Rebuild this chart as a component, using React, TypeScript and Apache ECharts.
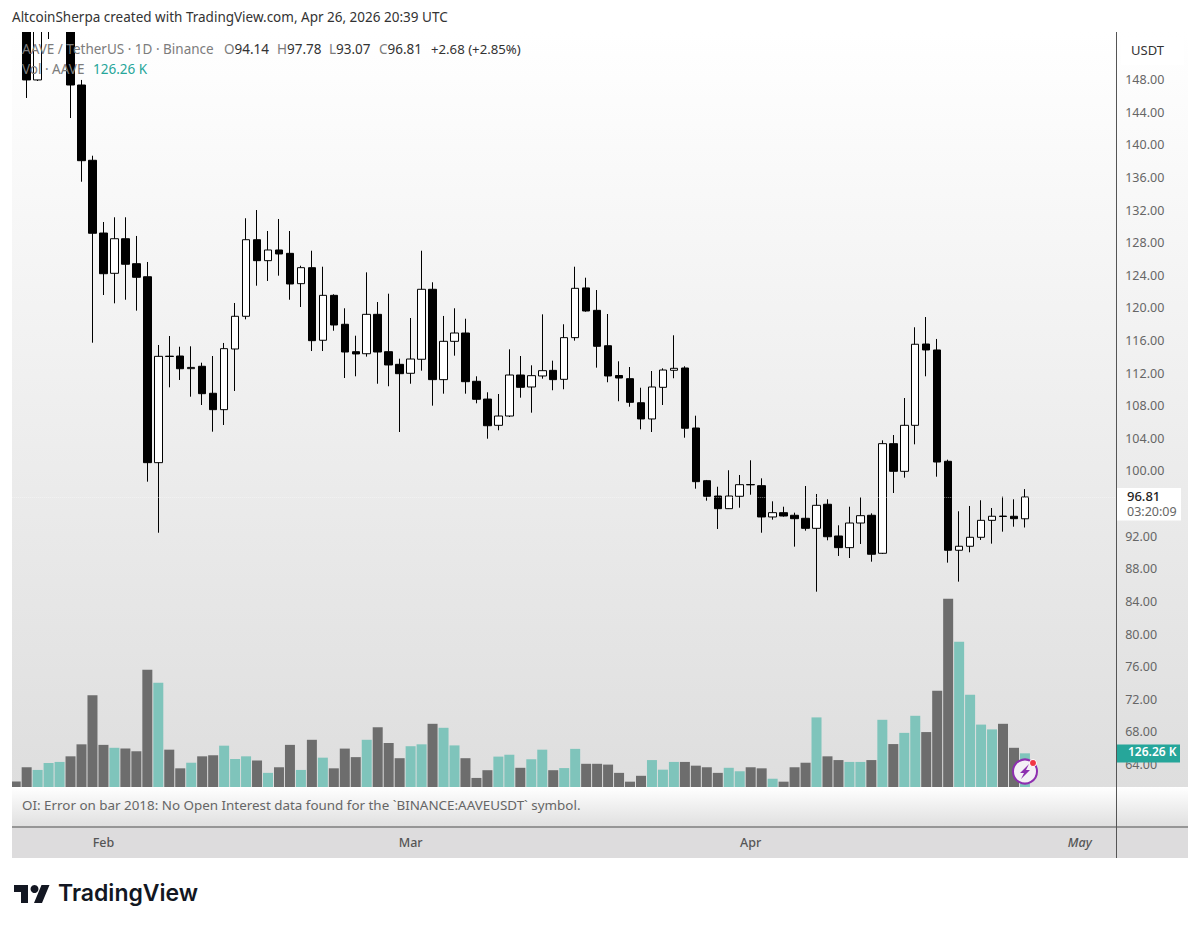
import React, { useEffect, useRef } from "react";
import * as echarts from "echarts";

const FONT = "'Noto Sans', sans-serif";

const opens = [160,157,147.95,155,157,156,147.33,138.10,129.18,124.24,128.48,125.42,123.82,101.02,114.08,114.10,112.55,112.84,109.53,107.52,114.96,118.97,128.36,125.79,127.10,126.69,122.97,124.93,116.03,121.54,117.99,114.63,114.38,119.21,114.63,113.08,111.98,113.70,122.28,111.20,115.90,116.92,111.00,108.82,105.60,106.74,111.77,110.30,111.65,112.34,111.24,116.35,122.45,119.70,115.36,111.71,111.32,108.37,106.38,110.26,112.35,112.63,105.27,98.81,96.93,95.38,96.90,98.34,98.20,94.36,94.89,94.57,94.20,92.97,95.92,92.03,90.60,93.62,94.57,89.91,103.35,99.96,105.60,115.57,114.84,101.19,90.28,90.77,91.87,93.95,94.47,94.45,94.14];
const closes = [157,147.95,156,158,159,147.33,138.05,129.15,124.19,128.48,125.35,123.75,101.02,114.06,114.04,112.54,112.70,109.48,107.52,115.00,118.97,128.36,125.79,127.10,126.61,122.93,124.93,115.98,121.54,117.90,114.59,114.35,119.21,114.59,113.00,111.93,113.73,122.28,111.20,115.90,116.92,110.95,108.79,105.55,106.74,111.77,110.26,111.69,112.30,111.20,116.35,122.40,119.62,115.29,111.65,111.40,108.42,106.38,110.30,112.38,112.59,105.24,98.69,96.90,95.38,96.93,98.32,98.30,94.36,94.89,94.48,94.15,92.97,95.79,91.94,90.60,93.62,94.52,89.79,103.35,99.96,105.60,115.54,114.84,101.10,90.28,90.77,91.87,93.95,94.45,94.42,94.15,96.81];
const lows = [155,145.74,147.82,152.97,155,143.28,135.47,115.73,121.58,120.56,121.00,119.66,98.69,92.43,110.26,111.16,109.11,108.09,104.82,105.64,109.81,118.60,122.72,123.30,123.95,121.00,120.11,114.71,114.71,117.20,111.40,111.61,114.02,110.70,110.39,104.78,110.70,112.30,108.01,109.48,114.14,109.48,108.30,103.96,104.99,106.62,108.99,107.15,111.32,109.90,110.02,115.98,119.53,112.67,110.88,108.55,107.88,105.11,104.78,108.09,111.37,104.08,97.83,96.36,92.89,95.34,95.50,97.09,92.43,94.03,94.40,90.72,92.68,85.20,91.50,89.58,89.33,91.05,88.88,89.82,97.30,99.18,103.27,111.61,99.30,88.76,86.43,90.03,91.54,91.09,92.56,93.17,93.07];
const highs = [162,158,158,160,161,157,147.95,138.66,130.53,131.11,131.11,128.82,125.63,115.45,116.55,115.24,115.29,113.28,114.10,115.70,120.60,130.99,132.00,129.43,130.90,129.43,125.17,127.01,125.05,121.67,119.95,116.59,124.36,120.72,121.74,113.77,118.76,127.01,123.14,119.01,119.95,118.67,111.61,109.65,109.44,114.92,114.10,112.96,119.21,113.53,117.99,125.05,123.70,122.19,119.25,113.45,112.75,110.21,112.26,112.59,116.64,112.84,106.78,98.90,98.07,100.09,99.51,101.31,99.10,96.28,95.62,94.89,98.16,97.18,96.53,93.34,95.62,96.78,94.81,103.76,104.41,108.95,117.62,118.88,116.19,101.39,95.06,95.71,96.41,95.46,96.85,96.53,97.78];
const volumes = [21,74,64,90,94,115,160,344,158,147,144,134,440,391,140,70,91,115,119,155,105,115,99,53,74,158,64,177,110,70,144,112,177,224,165,108,153,160,237,222,156,108,34,63,114,121,72,104,140,63,71,143,87,87,84,53,20,42,101,65,94,94,80,74,53,72,59,74,70,31,20,74,91,261,115,101,94,94,101,252,161,203,267,206,361,706,545,346,234,216,237,147,126.26];
const priceTicks = [148,144,140,136,132,128,124,120,116,112,108,104,100,92,88,84,80,76,72,68,64];
const monthLabels: Record<string, string> = { "1-1": "Feb", "2-1": "Mar", "3-1": "Apr", "4-1": "May" };
const lastClose = 96.81;

const categories: string[] = [];
for (let i = 0; i < 101; i++) {
  const d = new Date(Date.UTC(2026, 0, 24 + i));
  categories.push(`${d.getUTCMonth()}-${d.getUTCDate()}`);
}

const candleData = opens.map((o, i) => [o, closes[i], lows[i], highs[i]]);
const volumeData = volumes.map((v, i) => ({
  value: v,
  itemStyle: { color: closes[i] >= opens[i] ? "#7fc4bb" : "#6d6d6d" },
}));

const TV_PATH = "M14 22H7V11H0V4h14v18zM28 22h-8l7.5-18h8L28 22z";
echarts.graphic.registerShape("tvmark", (echarts.graphic as any).extendPath(TV_PATH, {}));

const vGrad = (a: string, b: string) =>
  new echarts.graphic.LinearGradient(0, 0, 0, 1, [
    { offset: 0, color: a },
    { offset: 1, color: b },
  ]);

const txt = (x: number, y: number, text: string, rich: any, extra: any = {}) => ({
  type: "text",
  x,
  y,
  z: 100,
  silent: true,
  style: { text, rich, fontFamily: FONT, fontSize: 13, ...extra },
});
const hdr = {
  a: { fill: "#7c7c7c", fontSize: 13.5, fontFamily: FONT },
  b: { fill: "#333333", fontSize: 13.5, fontFamily: FONT },
};

export default function App() {
  const ref = useRef<HTMLDivElement>(null);
  useEffect(() => {
    document.body.style.margin = "0";
    document.body.style.background = "#fff";
    const chart = echarts.init(ref.current!, null, { renderer: "svg" });
    chart.setOption({
      animation: false,
      backgroundColor: "#ffffff",
      tooltip: { show: false },
      grid: [
        { left: 10.2, width: 1108, top: 32, height: 755 },
        { left: 10.2, width: 1108, top: 487, height: 300 },
      ],
      xAxis: [
        {
          type: "category",
          gridIndex: 0,
          data: categories,
          boundaryGap: true,
          axisLine: { show: false },
          axisTick: { show: false },
          axisLabel: {
            margin: 49,
            interval: (_: number, v: string) => !!monthLabels[v],
            hideOverlap: false,
            formatter: (v: string) =>
              monthLabels[v] === "May" ? `{i|May}` : `{m|${monthLabels[v] ?? ""}}`,
            rich: {
              m: { color: "#555555", fontSize: 12.5, fontWeight: 500, fontFamily: FONT },
              i: { color: "#555555", fontSize: 12.5, fontWeight: 500, fontStyle: "italic", fontFamily: FONT },
            },
          },
          splitLine: { show: false },
        },
        {
          type: "category",
          gridIndex: 1,
          data: categories,
          boundaryGap: true,
          axisLine: { show: false },
          axisTick: { show: false },
          axisLabel: { show: false },
          splitLine: { show: false },
        },
      ],
      yAxis: [
        {
          type: "value",
          gridIndex: 0,
          position: "right",
          min: 61.25,
          max: 153.83,
          axisLine: { show: false },
          axisTick: { show: false },
          splitLine: { show: false },
          axisLabel: {
            customValues: priceTicks,
            margin: 7,
            color: "#666666",
            fontSize: 12.5,
            fontFamily: FONT,
            formatter: (v: number) => v.toFixed(2),
          },
        },
        {
          type: "value",
          gridIndex: 1,
          min: 0,
          max: 1125,
          show: false,
        },
      ],
      series: [
        {
          type: "bar",
          xAxisIndex: 1,
          yAxisIndex: 1,
          data: volumeData,
          barWidth: 10,
          silent: true,
          z: 1,
        },
        {
          type: "candlestick",
          xAxisIndex: 0,
          yAxisIndex: 0,
          data: candleData,
          barWidth: 8,
          silent: true,
          clip: true,
          z: 2,
          itemStyle: {
            color: "#ffffff",
            color0: "#000000",
            borderColor: "#000000",
            borderColor0: "#000000",
            borderWidth: 1,
          },
          markLine: {
            silent: true,
            symbol: "none",
            label: { show: false },
            lineStyle: { color: "rgba(255,255,255,0.45)", type: "dotted", width: 1 },
            data: [{ yAxis: lastClose }],
          },
        },
      ],
      graphic: [
        { type: "rect", z: -10, silent: true, shape: { x: 12, y: 32, width: 1176, height: 755 }, style: { fill: vGrad("#ffffff", "#dedede") } },
        { type: "rect", z: -10, silent: true, shape: { x: 12, y: 787, width: 1176, height: 39 }, style: { fill: vGrad("#ffffff", "#e0e0e0") } },
        { type: "rect", z: -10, silent: true, shape: { x: 12, y: 828, width: 1176, height: 30 }, style: { fill: "#dddcdd" } },
        { type: "rect", z: 90, silent: true, shape: { x: 0, y: 0, width: 1200, height: 32 }, style: { fill: "#ffffff" } },
        { type: "rect", z: 90, silent: true, shape: { x: 0, y: 32, width: 12, height: 826 }, style: { fill: "#ffffff" } },
        { type: "rect", z: 90, silent: true, shape: { x: 12, y: 826, width: 1176, height: 2 }, style: { fill: "#969696" } },
        { type: "rect", z: 90, silent: true, shape: { x: 1116, y: 32, width: 1, height: 826 }, style: { fill: "#555555" } },
        { type: "rect", z: 95, silent: true, shape: { x: 1121, y: 38, width: 63, height: 27 }, style: { fill: "#ffffff" } },
        { type: "rect", z: 95, silent: true, shape: { x: 1117, y: 488, width: 64, height: 32.5 }, style: { fill: "#ffffff" } },
        txt(1127, 489, "{b|96.81}", { b: { fill: "#222222", fontSize: 13, fontFamily: FONT, fontWeight: 500 } }),
        txt(1127, 505, "{a|03:20:09}", { a: { fill: "#666666", fontSize: 12.5, fontFamily: FONT } }),
        { type: "rect", z: 95, silent: true, shape: { x: 1117, y: 744.5, width: 63, height: 18 }, style: { fill: "#26a69a" } },
        txt(1128, 745.5, "{a|126.26 K}", { a: { fill: "#ffffff", fontSize: 12, fontWeight: 600, fontFamily: FONT } }),
        txt(1131, 43, "{a|USDT}", { a: { fill: "#333333", fontSize: 13, fontFamily: FONT } }),
        txt(12, 10, "{a|AltcoinSherpa created with TradingView.com, Apr 26, 2026 20:39 UTC}", { a: { fill: "#333333", fontSize: 13.5, fontFamily: FONT } }),
        txt(22, 42, "{a|AAVE / TetherUS · 1D · Binance}", hdr),
        txt(224, 42, "{a|O}{b|94.14}", hdr),
        txt(277, 42, "{a|H}{b|97.78}", hdr),
        txt(329, 42, "{a|L}{b|93.07}", hdr),
        txt(379, 42, "{a|C}{b|96.81}", hdr),
        txt(431, 42, "{b|+2.68 (+2.85%)}", { b: { fill: "#333333", fontSize: 13.2, fontFamily: FONT } }),
        txt(22, 62, "{a|Vol · AAVE}", hdr),
        txt(93, 62, "{t|126.26 K}", { t: { fill: "#26a69a", fontSize: 13.5, fontFamily: FONT } }),
        txt(22, 798, "{a|OI: Error on bar 2018: No Open Interest data found for the `BINANCE:AAVEUSDT` symbol.}", { a: { fill: "#666666", fontSize: 13.4, fontFamily: FONT } }),
        { type: "circle", z: 96, silent: true, shape: { cx: 1025, cy: 771.5, r: 12 }, style: { fill: "#f4f0f6", stroke: "#8e2fb0", lineWidth: 2 } },
        { type: "polygon", z: 97, silent: true, shape: { points: [[1029, 764], [1020, 773], [1024, 773], [1021, 779], [1030, 770], [1026, 770]] }, style: { fill: "#8e2fb0" } },
        { type: "circle", z: 98, silent: true, shape: { cx: 1033, cy: 763, r: 3.5 }, style: { fill: "#f23645", stroke: "#ffffff", lineWidth: 1 } },
        { type: "tvmark", z: 100, silent: true, x: 14, y: 881, style: { fill: "#131722" } },
        { type: "circle", z: 100, silent: true, shape: { cx: 34.5, cy: 889, r: 4 }, style: { fill: "#131722" } },
        txt(58, 881, "{a|TradingView}", { a: { fill: "#131722", fontSize: 23, fontWeight: 600, fontFamily: "Inter, sans-serif" } }),
      ],
    });
    return () => chart.dispose();
  }, []);
  return <div ref={ref} style={{ position: "absolute", left: 0, top: 0, width: 1200, height: 929 }} />;
}
